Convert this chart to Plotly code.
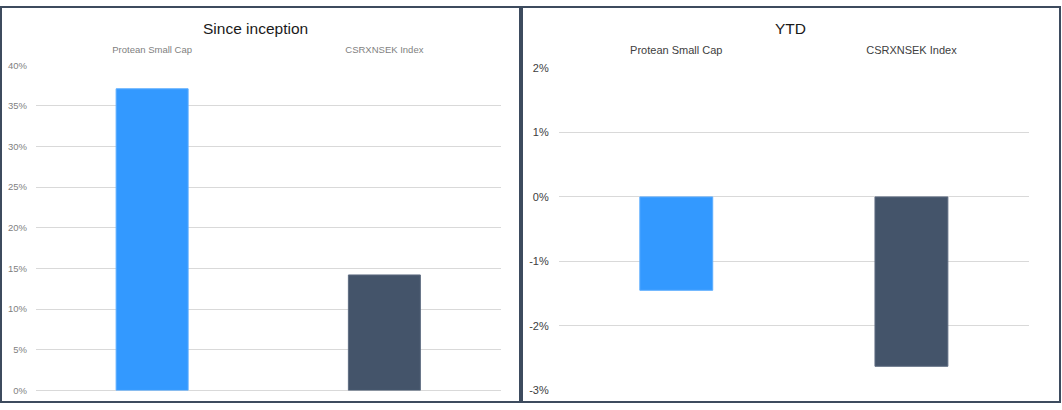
import plotly.graph_objects as go
from plotly.subplots import make_subplots

# Data
categories = ["Protean Small Cap", "CSRXNSEK Index"]
since_inception = [37.1, 14.2]   # %
ytd = [-1.45, -2.63]             # %
bar_colors = ["#3399ff", "#44546a"]
bar_edges = ["#5cadff", "#5d6b80"]

left_ticks = [0, 5, 10, 15, 20, 25, 30, 35, 40]
left_ticktext = ["0%", "5%", "10%", "15%", "20%", "25%", "30%", "35%", "40%"]
right_ticks = [-3, -2, -1, 0, 1, 2]
right_ticktext = ["-3%", "-2%", "-1%", "0%", "1%", "2%"]

W, H = 1062, 410
FONT = "Liberation Sans, Arial, sans-serif"


def px_x(v):
    return v / W


def px_y(v):
    # pixel from top -> paper coordinate
    return 1 - v / H


fig = make_subplots(rows=1, cols=2)

fig.add_trace(go.Bar(
    x=categories, y=since_inception, width=0.31,
    marker=dict(color=bar_colors, line=dict(color=bar_edges, width=1)),
    hovertemplate="%{x}: %{y:.1f}%<extra></extra>",
), row=1, col=1)

fig.add_trace(go.Bar(
    x=categories, y=ytd, width=0.31,
    marker=dict(color=bar_colors, line=dict(color=bar_edges, width=1)),
    hovertemplate="%{x}: %{y:.2f}%<extra></extra>",
), row=1, col=2)

fig.update_layout(
    width=W, height=H,
    margin=dict(l=0, r=0, t=0, b=0),
    paper_bgcolor="white",
    plot_bgcolor="white",
    showlegend=False,
    font=dict(family=FONT),
    # left panel axes
    xaxis=dict(domain=[px_x(36), px_x(500.5)], side="top", showgrid=False,
               ticks="", ticklabelstandoff=9,
               tickfont=dict(size=9.5, color="#7f7f7f")),
    yaxis=dict(domain=[px_y(396), px_y(61)], range=[0, 40],
               tickvals=left_ticks, ticktext=left_ticktext,
               gridcolor="#d9d9d9", gridwidth=1, zeroline=True,
               zerolinecolor="#d9d9d9", zerolinewidth=1,
               tickfont=dict(size=9.5, color="#7f7f7f"), ticklabelstandoff=8),
    # right panel axes
    xaxis2=dict(domain=[px_x(558.7), px_x(1029)], side="top", showgrid=False,
                ticks="", ticklabelstandoff=11,
                tickfont=dict(size=11, color="#404040")),
    yaxis2=dict(domain=[px_y(395.7), px_y(64)], range=[-3, 2],
                tickvals=right_ticks, ticktext=right_ticktext,
                gridcolor="#d9d9d9", gridwidth=1, zeroline=True,
                zerolinecolor="#d9d9d9", zerolinewidth=1,
                tickfont=dict(size=11, color="#404040"), ticklabelstandoff=9),
)

# panel titles
fig.add_annotation(text="Since inception", xref="paper", yref="paper",
                   x=px_x(255), y=px_y(23), xanchor="center", yanchor="middle",
                   showarrow=False,
                   font=dict(size=15.5, color="#1a1a1a", family=FONT))
fig.add_annotation(text="YTD", xref="paper", yref="paper",
                   x=px_x(790), y=px_y(23), xanchor="center", yanchor="middle",
                   showarrow=False,
                   font=dict(size=15.5, color="#1a1a1a", family=FONT))

# panel borders
border = dict(color="#3d4b5e", width=2)
fig.add_shape(type="rect", xref="paper", yref="paper",
              x0=px_x(1), x1=px_x(520), y0=px_y(408), y1=px_y(1), line=border)
fig.add_shape(type="rect", xref="paper", yref="paper",
              x0=px_x(522), x1=px_x(1060), y0=px_y(408), y1=px_y(1), line=border)

# pin the figure to the top-left corner of the window
fix_page = (
    "document.documentElement.style.margin='0';"
    "document.body.style.margin='0';"
    "document.body.style.overflow='hidden';"
    "var gd=document.getElementById('{plot_id}');"
    "gd.style.position='fixed';gd.style.left='0px';gd.style.top='0px';"
)

fig.write_html("out.html", post_script=fix_page,
               config={"responsive": False, "displayModeBar": False})
